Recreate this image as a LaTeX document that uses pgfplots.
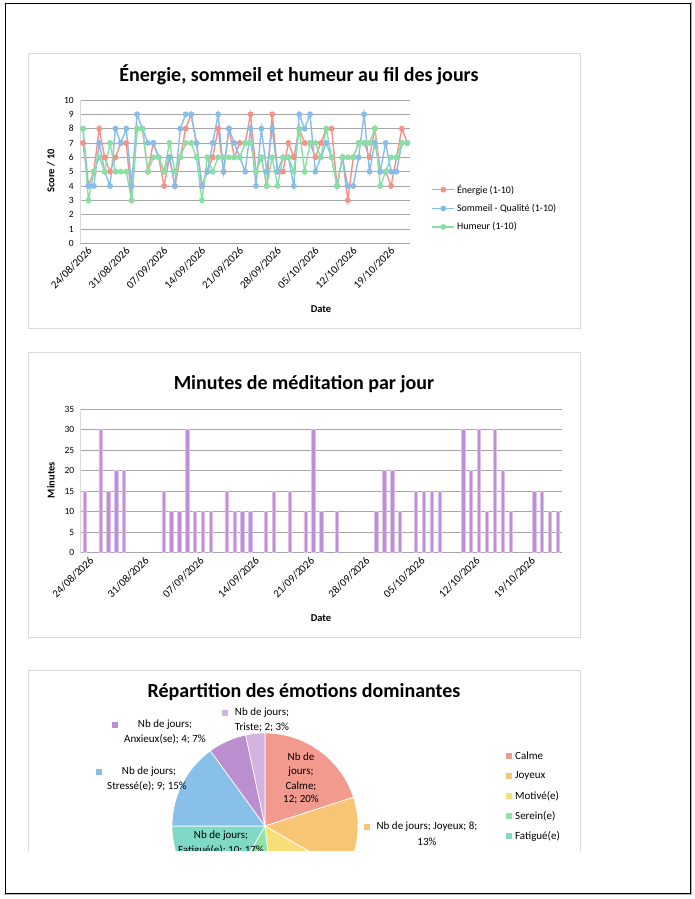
\documentclass[border=0pt]{standalone}
\usepackage{pgfplots}
\pgfplotsset{compat=1.18}
\usepackage{pgfplotstable}
\usepackage{fontspec}
\setmainfont{Carlito}
\definecolor{cE}{HTML}{F4928A}
\definecolor{cS}{HTML}{86BDEB}
\definecolor{cH}{HTML}{88E0A5}
\definecolor{cbar}{HTML}{C08ED6}
\definecolor{gridc}{HTML}{A6A6A6}
\definecolor{boxc}{HTML}{D9D9D9}
\definecolor{calme}{HTML}{F29A8E}
\definecolor{joyeux}{HTML}{F8C574}
\definecolor{motive}{HTML}{F8DE78}
\definecolor{serein}{HTML}{8EE3A8}
\definecolor{fatigue}{HTML}{7ED9C6}
\definecolor{stresse}{HTML}{88C0EA}
\definecolor{anxieux}{HTML}{BA8ECF}
\definecolor{triste}{HTML}{D3B4E0}

\pgfplotstableread{
d E S H
0 7 8 8
1 4 4 3
2 5 4 5
3 8 7 6
4 6 5 5
5 5 4 7
6 6 8 5
7 7 7 5
8 7 8 5
9 3 4 3
10 8 9 8
11 8 8 8
12 5 7 5
13 7 7 6
14 6 6 6
15 4 5 5
16 6 6 7
17 4 4 5
18 6 8 6
19 8 9 7
20 9 9 7
21 7 7 6
22 4 4 3
23 5 5 6
24 6 7 5
25 8 9 6
26 5 5 6
27 8 8 6
28 6 7 6
29 7 6 6
30 7 5 7
31 9 8 7
32 5 4 5
33 6 8 6
34 4 5 4
35 9 8 6
36 5 5 4
37 5 6 6
38 7 6 6
39 6 4 5
40 8 9 8
41 7 8 5
42 7 9 7
43 6 5 7
44 7 6 6
45 8 7 8
46 8 6 6
47 4 4 4
48 6 6 6
49 3 4 6
50 6 4 6
51 7 6 7
52 7 9 7
53 6 5 7
54 8 7 8
55 5 5 4
56 5 7 5
57 4 5 6
58 6 5 6
59 8 7 7
60 7 7 7
}\scores

\pgfplotstableread{
d M
0 15
2 30
3 15
4 20
5 20
10 15
11 10
12 10
13 30
14 10
15 10
16 10
18 15
19 10
20 10
21 10
23 10
24 15
26 15
28 10
29 30
30 10
32 10
37 10
38 20
39 20
40 10
42 15
43 15
44 15
45 15
48 30
49 20
50 30
51 10
52 30
53 20
54 10
57 15
58 15
59 10
60 10
}\medit

\pgfplotsset{
  common/.style={
    scale only axis,
    anchor=south west,
    xmin=-0.5, xmax=60.5,
    xtick={0,7,...,56},
    xticklabels={24/08/2026,31/08/2026,07/09/2026,14/09/2026,21/09/2026,28/09/2026,05/10/2026,12/10/2026,19/10/2026},
    xticklabel style={rotate=45, anchor=north east, inner sep=1pt, font=\fontsize{11}{12}\selectfont, yshift=-4pt, xshift=2pt},
    yticklabel style={font=\fontsize{9.5}{11}\selectfont, /pgf/number format/assume math mode=true, xshift=-3pt},
    major tick length=0pt,
    ymajorgrids,
    grid style={gridc, line width=0.7pt},
    axis x line*=bottom,
    axis y line*=left,
    x axis line style={gridc, line width=0.7pt, -},
    y axis line style={boxc, line width=0.7pt, -},
  }
}

\begin{document}
\begin{tikzpicture}[x=1pt,y=1pt]
\useasboundingbox (0,0) rectangle (695,899);
\fill[white] (0,0) rectangle (695,899);
% outer page frame
\draw[black, line width=0.8pt] (5,6) rectangle (690,896);
\draw[gray!60, line width=1pt] (691.5,5) -- (691.5,897);
\draw[gray!60, line width=1pt] (4,4.5) -- (691.5,4.5);
% chart boxes
\draw[boxc, line width=0.7pt] (28,571) rectangle (580,846);
\draw[boxc, line width=0.7pt] (28,262) rectangle (580,547);

% ===== Chart 1 =====
\node[font=\bfseries\fontsize{20}{24}\selectfont] at (299,824) {Énergie, sommeil et humeur au fil des jours};
\begin{axis}[common,
  at={(80.3pt,655.7pt)}, width=329.7pt, height=143.3pt,
  ymin=0, ymax=10, ytick={0,1,...,10},
  legend style={at={(1.065,0.246)}, anchor=west, draw=none, fill=none,
     font=\fontsize{10}{11}\selectfont, row sep=5.5pt, inner sep=0pt},
  legend cell align=left,
  legend image code/.code={\draw[mark repeat=2,mark phase=2,#1] plot coordinates {(0pt,0pt) (11pt,0pt) (22pt,0pt)};},
  every axis plot/.append style={line width=1.4pt, mark=*, mark size=2.2pt},
]
\addplot[cE, mark options={fill=cE}] table[x=d,y=E] {\scores};
\addplot[cS, mark options={fill=cS}] table[x=d,y=S] {\scores};
\addplot[cH, mark options={fill=cH}] table[x=d,y=H] {\scores};
\legend{Énergie (1-10),Sommeil - Qualité (1-10),Humeur (1-10)}
\end{axis}
\node[font=\bfseries\fontsize{10.5}{12}\selectfont] at (321,590) {Date};
\node[font=\bfseries\fontsize{10.5}{12}\selectfont, rotate=90] at (51,728) {Score / 10};

% ===== Chart 2 =====
\node[font=\bfseries\fontsize{20}{24}\selectfont] at (304,515) {Minutes de méditation par jour};
\begin{axis}[common,
  at={(80.7pt,346.3pt)}, width=481pt, height=143.7pt,
  ymin=0, ymax=35, ytick={0,5,...,35},
  ybar, bar width=3.3pt, bar shift=0pt,
]
\addplot[fill=cbar, draw=cbar!55!white, line width=0.5pt] table[x=d,y=M] {\medit};
\end{axis}
\node[font=\bfseries\fontsize{10.5}{12}\selectfont] at (321,281) {Date};
\node[font=\bfseries\fontsize{10.5}{12}\selectfont, rotate=90] at (51,419) {Minutes};

% ===== Chart 3 (cut at bottom) =====
\begin{scope}
\clip (0,48) rectangle (695,899);
\draw[boxc, line width=0.7pt] (28,0) -- (28,229) -- (580,229) -- (580,0);
\node[font=\bfseries\fontsize{20}{24}\selectfont] at (304,207) {Répartition des émotions dominantes};
\gdef\curang{90}
\foreach \v/\c in {12/calme,8/joyeux,9/motive,6/serein,10/fatigue,9/stresse,4/anxieux,2/triste}{
  \pgfmathsetmacro\endang{\curang-6*\v}
  \fill[\c, draw=white, line width=0.7pt] (265,73) -- ++(\curang:93) arc[start angle=\curang, end angle=\endang, radius=93] -- cycle;
  \xdef\curang{\endang}
}
\begin{scope}[font=\fontsize{11}{12}\selectfont]
% Calme inside
\node at (301,142) {Nb de};
\node at (301,127) {jours;};
\node at (301,113) {Calme;};
\node at (301,100) {12; 20\%};
% Joyeux
\fill[joyeux] (364,69) rectangle (370,75);
\node at (427,72) {Nb de jours; Joyeux; 8;};
\node at (427,57) {13\%};
% Stressé
\fill[stresse] (96,124) rectangle (102,130);
\node at (149,127) {Nb de jours;};
\node at (147,113) {Stressé(e); 9; 15\%};
% Anxieux
\fill[anxieux] (112,171) rectangle (118,177);
\node at (165,174) {Nb de jours;};
\node at (165,160) {Anxieux(se); 4; 7\%};
% Triste
\fill[triste] (222,183) rectangle (228,189);
\node at (262,186) {Nb de jours;};
\node at (262,172) {Triste; 2; 3\%};
% Fatigué
\node at (221,63) {Nb de jours;};
\node at (221,49) {Fatigué(e); 10; 17\%};
% legend
\foreach \c/\t/\py in {calme/Calme/756,joyeux/Joyeux/776,motive/Motivé(e)/796,serein/Serein(e)/816,fatigue/Fatigué(e)/836}{
  \fill[\c] (506,{899-\py-3}) rectangle (512,{899-\py+3});
  \node[anchor=west, inner sep=0pt] at (515,{899-\py}) {\t};
}
\end{scope}
\end{scope}
\end{tikzpicture}
\end{document}
